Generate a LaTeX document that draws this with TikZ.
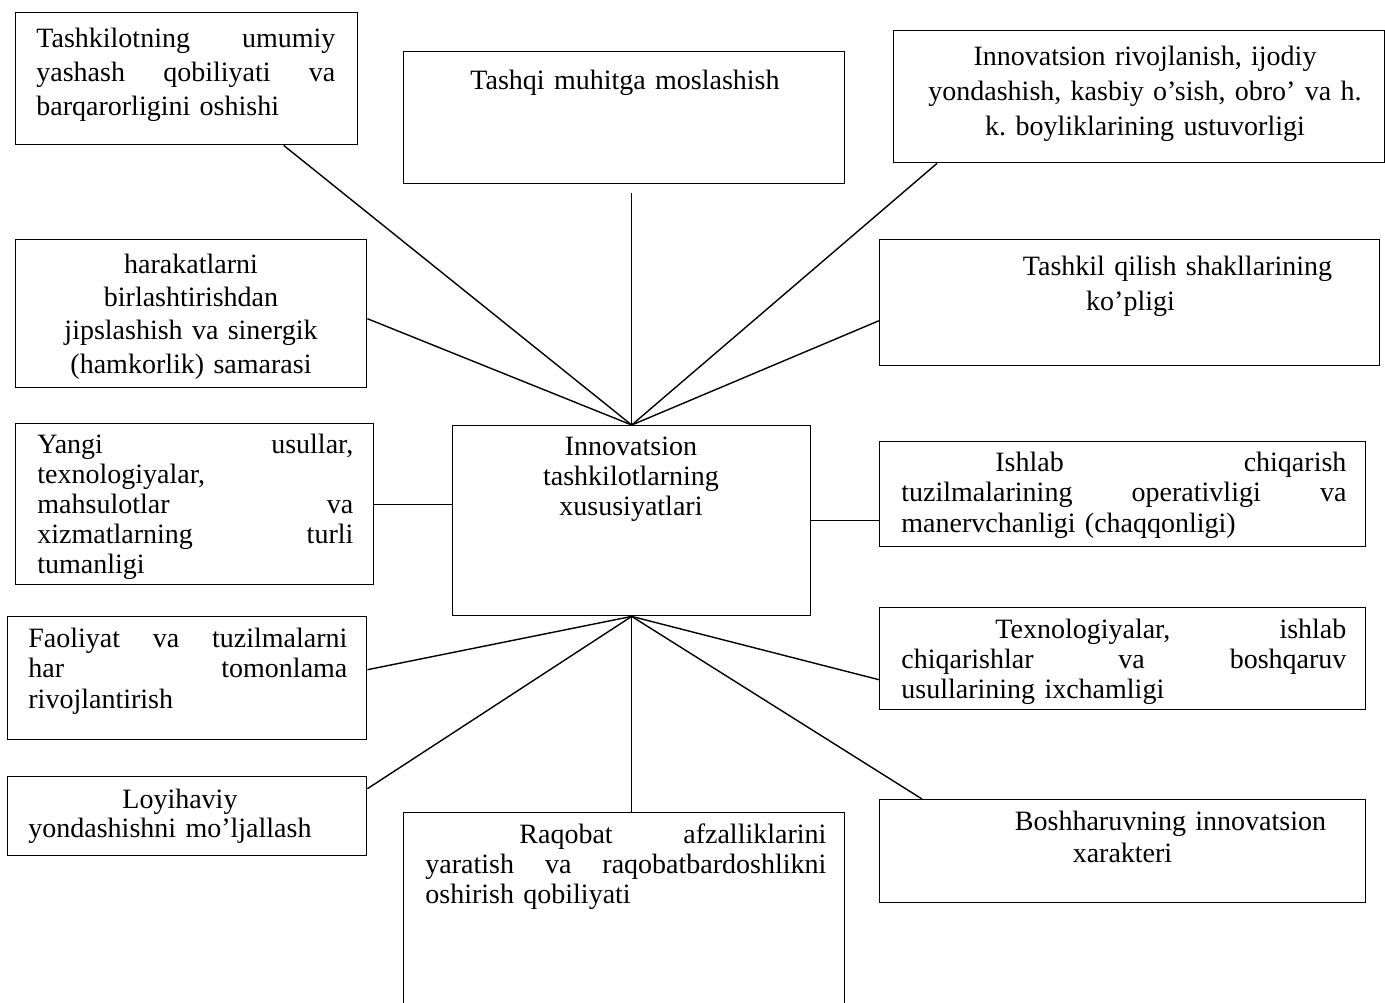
\documentclass[tikz,border=0pt]{standalone}
\usepackage{fontspec}
\setmainfont{Liberation Serif}
\usepackage{tikz}
\tikzstyle{cell}=[draw=black, line width=0.7pt, rectangle, inner sep=0pt, anchor=north west]
\tikzstyle{txt}=[inner sep=0pt, font=\fontsize{14}{15}\selectfont]
\tikzstyle{link}=[line width=0.7pt]

\begin{document}
\begin{tikzpicture}[x=0.5pt, y=-0.5pt]
\clip (0,0) rectangle (1385,1002);
% boxes
\node[cell, minimum width=171pt, minimum height=66pt] (tashkilot) at (15,12){};
\node[cell, minimum width=220.5pt, minimum height=66pt] (tashqi) at (403,51){};
\node[cell, minimum width=245.5pt, minimum height=66pt] (rivoj) at (893,30){};
\node[cell, minimum width=175.5pt, minimum height=74pt] (harakat) at (15,239){};
\node[cell, minimum width=250pt, minimum height=63pt] (shakl) at (879,239){};
\node[cell, minimum width=179pt, minimum height=95pt] (markaz) at (452,425){};
\node[cell, minimum width=179pt, minimum height=80.5pt] (yangi) at (15,423){};
\node[cell, minimum width=243pt, minimum height=52.5pt] (ishlab) at (879,441){};
\node[cell, minimum width=179.5pt, minimum height=61.5pt] (faoliyat) at (7,616){};
\node[cell, minimum width=243pt, minimum height=51pt] (texno) at (879,607){};
\node[cell, minimum width=179.5pt, minimum height=39.5pt] (loyiha) at (7,776){};
\node[cell, minimum width=220.5pt, minimum height=101.5pt] (raqobat) at (403,812){};
\node[cell, minimum width=243pt, minimum height=51.5pt] (boshqaruv) at (879,799){};
% texts
\node[txt, font=\fontsize{14}{17}\selectfont, text width=149.5pt, anchor=base west] (tashkilot-t) at (36,47)
  {Tashkilotning\hfill umumiy\\ yashash\hfill qobiliyati\hfill va\\ barqarorligini oshishi};
\node[txt, text width=220pt, align=center, anchor=base] (tashqi-t) at (625,89) {Tashqi muhitga moslashish};
\node[txt, font=\fontsize{14}{17.5}\selectfont, text width=240pt, align=center, anchor=base] (rivoj-t) at (1145,65)
  {Innovatsion rivojlanish, ijodiy\\ yondashish, kasbiy o’sish, obro’ va h.\\ k.\ boyliklarining ustuvorligi};
\node[txt, font=\fontsize{14}{16.7}\selectfont, text width=170pt, align=center, anchor=base] (harakat-t) at (191,273)
  {harakatlarni\\ birlashtirishdan\\ jipslashish va sinergik\\ (hamkorlik) samarasi};
\node[txt, font=\fontsize{14}{17.5}\selectfont, text width=240pt, align=center, anchor=base] (shakl-t) at (1130.5,275)
  {\hspace*{47pt}Tashkil qilish shakllarining\\ ko’pligi};
\node[txt, text width=170pt, align=center, anchor=base] (markaz-t) at (631,455)
  {Innovatsion\\ tashkilotlarning\\ xususiyatlari};
\node[txt, text width=158pt, anchor=base west] (yangi-t) at (37,453)
  {Yangi\hfill usullar,\\ texnologiyalar,\\ mahsulotlar\hfill va\\ xizmatlarning\hfill turli\\ tumanligi};
\node[txt, font=\fontsize{14}{15.3}\selectfont, text width=222.5pt, anchor=base west] (ishlab-t) at (901,471)
  {\hspace*{47pt}Ishlab\hfill chiqarish\\ tuzilmalarining\hfill operativligi\hfill va\\ manervchanligi (chaqqonligi)};
\node[txt, font=\fontsize{14}{15.3}\selectfont, text width=159.5pt, anchor=base west] (faoliyat-t) at (28,647)
  {Faoliyat\hfill va\hfill tuzilmalarni\\ har\hfill tomonlama\\ rivojlantirish};
\node[txt, text width=222.5pt, anchor=base west] (texno-t) at (901,638)
  {\hspace*{47pt}Texnologiyalar,\hfill ishlab\\ chiqarishlar\hfill va\hfill boshqaruv\\ usullarining ixchamligi};
\node[txt, font=\fontsize{14}{14.5}\selectfont, text width=159.5pt, anchor=base west] (loyiha-t) at (28,808)
  {\hspace*{47pt}Loyihaviy\\ yondashishni mo’ljallash};
\node[txt, text width=200.5pt, anchor=base west] (raqobat-t) at (425,843)
  {\hspace*{47pt}Raqobat\hfill afzalliklarini\\ yaratish\hfill va\hfill raqobatbardoshlikni\\ oshirish qobiliyati};
\node[txt, font=\fontsize{14}{16}\selectfont, text width=240pt, align=center, anchor=base] (boshqaruv-t) at (1122.5,830)
  {\hspace*{48pt}Boshharuvning innovatsion\\ xarakteri};
% links
\coordinate (tashqiend) at ([yshift=-4.5pt]tashqi.south);
\draw[link] (markaz.north) -- ([xshift=48.5pt]tashkilot.south);
\draw[link] (markaz.north) -- (markaz.north |- tashqiend);
\draw[link] (markaz.north) -- ([xshift=22pt]rivoj.south west);
\draw[link] (markaz.north) -- ([yshift=-2.5pt]harakat.east);
\draw[link] (markaz.north) -- ([yshift=-9pt]shakl.west);
\draw[link] (yangi.east) -- (yangi.east -| markaz.west);
\draw[link] (markaz.east) -- (markaz.east -| ishlab.west);
\draw[link] (markaz.south) -- ([yshift=4.25pt]faoliyat.east);
\draw[link] (markaz.south) -- ([yshift=13.75pt]loyiha.east);
\draw[link] (markaz.south) -- (markaz.south |- raqobat.north);
\draw[link] (markaz.south) -- ([yshift=-10.5pt]texno.west);
\draw[link] (markaz.south) -- ([xshift=21.5pt]boshqaruv.north west);
\end{tikzpicture}
\end{document}
